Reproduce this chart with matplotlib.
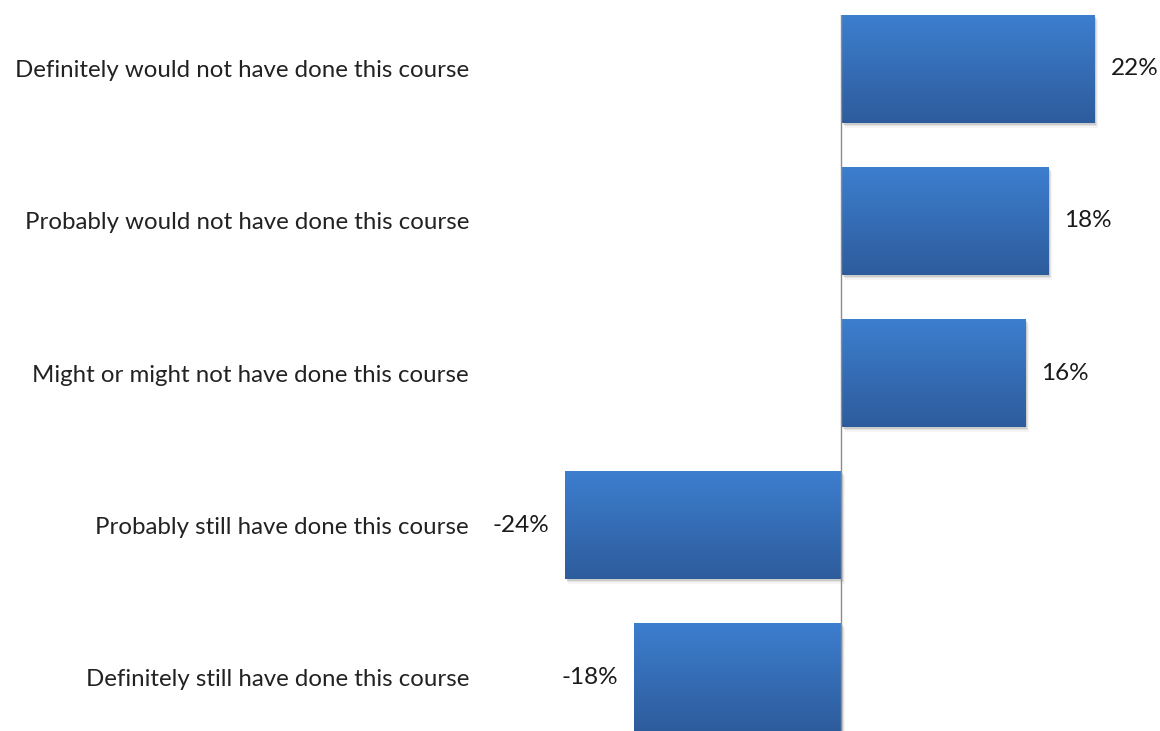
import numpy as np
import matplotlib.pyplot as plt
from matplotlib.patches import Rectangle

categories = ['Definitely would not have done this course',
              'Probably would not have done this course',
              'Might or might not have done this course',
              'Probably still have done this course',
              'Definitely still have done this course']
values = [22, 18, 16, -24, -18]

W, H = 1160, 731
bar_h = 0.71

fig = plt.figure(figsize=(W / 100, H / 100), dpi=100)
# axes placed so that zero sits near the middle-right of the figure
ax = fig.add_axes([480 / W, 0, 680 / W, (H - 15) / H])

y = np.arange(len(categories))
bars = ax.barh(y, values, height=bar_h, color='none', edgecolor='none', zorder=3)

# vertical gradient, lighter at the top
grad = np.linspace(0, 1, 256).reshape(-1, 1)
top = np.array([0x3d, 0x7e, 0xcf]) / 255
bot = np.array([0x2d, 0x5c, 0x9c]) / 255
img = top + (bot - top) * grad[..., None]

for b in bars:
    x0, y0 = b.get_x(), b.get_y()
    w, h = b.get_width(), b.get_height()
    # soft drop shadow
    for k, a in enumerate([0.10, 0.07, 0.04]):
        off = 0.12 + 0.08 * k
        ax.add_patch(Rectangle((x0 + off, y0 + 0.012 + 0.01 * k), w, h,
                               facecolor='black', alpha=a, edgecolor='none', zorder=2))
    im = ax.imshow(img, extent=(x0, x0 + w, y0 + h, y0), aspect='auto',
                   interpolation='bilinear', zorder=3)
    im.set_clip_path(b)

for yi, v in zip(y, values):
    if v >= 0:
        ax.text(v + 1.4, yi, f'{v}%', ha='left', va='center', fontsize=17.5,
                family='Lato', color='#1a1a1a')
    else:
        ax.text(v - 1.4, yi, f'{v}%', ha='right', va='center', fontsize=17.5,
                family='Lato', color='#1a1a1a')

ax.axvline(0, color='#8c8c8c', lw=1, zorder=4)

ax.set_xlim(-31.4, 27.7)
ax.set_ylim(len(categories) - 1 + bar_h / 2, -bar_h / 2)
ax.set_yticks(y)
ax.set_yticklabels(categories, fontsize=17.3, family='Lato', color='#222222')
ax.tick_params(axis='y', length=0, pad=8)
ax.set_xticks([])
for s in ax.spines.values():
    s.set_visible(False)

fig.savefig('out.png', dpi=100, facecolor='white')
